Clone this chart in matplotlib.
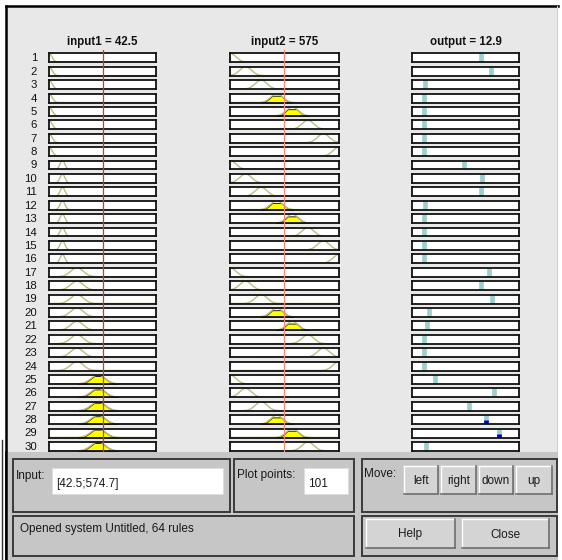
import numpy as np
import matplotlib.pyplot as plt
from matplotlib.patches import Rectangle

W, H = 562, 560
plt.rcParams['font.family'] = ['Liberation Sans Narrow', 'Liberation Sans', 'DejaVu Sans']

# ---- rule viewer data ----
rule_ids = list(range(1, 31))

in1_range = [0, 85]
in1_value = 42.5
in1_centers = [0, 10.7, 22.2, 39.0]
in1_sigmas = [2.4, 1.9, 5.0, 5.6]
in1_degree = [0, 0, 0, 0.88]

in2_range = [150, 1000]
in2_value = 574.7
in2_centers = [150, 271.4, 392.9, 514.3, 635.7, 757.1, 878.6, 1000]
in2_sigmas = [46, 46, 46, 46, 46, 46, 46, 46]
in2_degree = [0, 0, 0, 0.75, 0.75, 0, 0, 0]

out_range = [0, 17]
out_value = 12.9
out_rule_values = [11.0, 12.6, 2.0, 1.9, 1.9, 1.9, 1.9, 1.9,
                   8.2, 11.2, 11.0, 2.0, 1.9, 1.9, 1.9, 1.9,
                   12.2, 11.0, 12.7, 2.7, 2.4, 1.9, 1.9, 1.9,
                   3.7, 13.1, 9.1, 11.7, 13.9, 2.2]
rule_strength = [0, 0, 0, 0, 0, 0, 0, 0,
                 0, 0, 0, 0, 0, 0, 0, 0,
                 0, 0, 0, 0, 0, 0, 0, 0,
                 0, 0, 0, 0.42, 0.36, 0]

n_points = 101
titles = ['input1 = 42.5', 'input2 = 575', 'output = 12.9']


def px_rect(x0, y0, x1, y1):
    return [x0 / W, 1 - y1 / H, (x1 - x0) / W, (y1 - y0) / H]


def gaussmf(x, c, s):
    return np.exp(-(x - c) ** 2 / (2 * s ** 2))


fig = plt.figure(figsize=(W / 100, H / 100), dpi=100)
fig.patch.set_facecolor('white')

# background chrome (pixel coordinates)
bg = fig.add_axes([0, 0, 1, 1], zorder=-5)
bg.set_xlim(0, W)
bg.set_ylim(H, 0)
bg.axis('off')
bg.add_patch(Rectangle((6, 6), 552, 454, facecolor='#e8e8e8', edgecolor='none'))
bg.plot([6, 558], [6, 6], color='black', lw=1.8)
bg.plot([6, 6], [6, 560], color='black', lw=1.8)
bg.plot([557, 557], [6, 452], color='#cfcfcf', lw=0.8)

cols = [(49, 156), (230, 339), (412, 519)]
row_top0, row_step, row_h = 53.3, 13.4, 9.0

for (x0, x1), t in zip(cols, titles):
    bg.text((x0 + x1) / 2, 42, t, ha='center', va='center', fontsize=8.3,
            fontweight='bold', color='#111111')

for k, rid in enumerate(rule_ids):
    top = row_top0 + row_step * k
    bg.text(37, top + row_h / 2 + 0.5, str(rid), ha='right', va='center',
            fontsize=8.2, color='#111111')

    i1 = (rid - 1) // 8
    i2 = (rid - 1) % 8
    specs = [(in1_range, in1_centers[i1], in1_sigmas[i1], in1_degree[i1]),
             (in2_range, in2_centers[i2], in2_sigmas[i2], in2_degree[i2])]

    for (x0, x1), (rng, c, s, deg) in zip(cols[:2], specs):
        ax = fig.add_axes(px_rect(x0, top, x1, top + row_h))
        ax.set_xlim(rng)
        ax.set_ylim(0, 1)
        ax.set_xticks([])
        ax.set_yticks([])
        for sp in ax.spines.values():
            sp.set_linewidth(1.3)
            sp.set_color('#111111')
        xs = np.linspace(rng[0], rng[1], n_points * 4)
        ys = gaussmf(xs, c, s)
        if deg > 0:
            ax.fill_between(xs, 0, np.minimum(ys, deg), where=ys > 0.02,
                            facecolor='#ffff00', edgecolor='#222222', lw=0.7)
        ax.plot(xs, ys, color='#bdbd80', lw=1.0)

    ax = fig.add_axes(px_rect(cols[2][0], top, cols[2][1], top + row_h))
    ax.set_xlim(out_range)
    ax.set_ylim(0, 1)
    ax.set_xticks([])
    ax.set_yticks([])
    for sp in ax.spines.values():
        sp.set_linewidth(1.3)
        sp.set_color('#111111')
    ax.vlines(out_rule_values[k], 0, 1, color='#9dcfcf', lw=3.4)
    if rule_strength[k] > 0:
        ax.vlines(out_rule_values[k], 0, rule_strength[k], color='#0000cc', lw=3.4)

# input value indicators
for (x0, x1), rng, val, col in [(cols[0], in1_range, in1_value, '#c83838'),
                                (cols[1], in2_range, in2_value, '#ee8a7a')]:
    ov = fig.add_axes(px_rect(x0, 50, x1, 452), zorder=4)
    ov.set_xlim(rng)
    ov.axis('off')
    ov.patch.set_visible(False)
    ov.axvline(val, color=col, lw=0.9)

# bottom control panel
fg = fig.add_axes([0, 0, 1, 1], zorder=10)
fg.set_xlim(0, W)
fg.set_ylim(H, 0)
fg.axis('off')
fg.patch.set_visible(False)
fg.add_patch(Rectangle((7, 452), 551, 108, facecolor='#c6c6c6', edgecolor='none'))
fg.plot([6, 6], [452, 560], color='black', lw=1.8)
fg.plot([1.5, 1.5], [440, 560], color='#333333', lw=1.0)

panel_kw = dict(facecolor='none', edgecolor='#3a3a3a', lw=1.4)
for x0, y0, x1, y1 in [(13, 459, 230, 512), (234, 459, 354, 512), (362, 459, 557, 512),
                       (13, 516, 354, 556), (362, 516, 557, 556)]:
    fg.add_patch(Rectangle((x0, y0), x1 - x0, y1 - y0, **panel_kw))

for x0, y0, x1, y1 in [(52, 468, 223, 494), (304, 468, 348, 494)]:
    fg.add_patch(Rectangle((x0, y0), x1 - x0, y1 - y0, facecolor='white',
                           edgecolor='#dddddd', lw=0.6))

txt_kw = dict(fontsize=8.5, color='#1a1a1a', va='center')
fg.text(16, 476, 'Input:', **txt_kw)
fg.text(56, 484, '[42.5;574.7]', **txt_kw)
fg.text(237, 475, 'Plot points:', **txt_kw)
fg.text(308, 484, '101', **txt_kw)
fg.text(364, 474, 'Move:', **txt_kw)
fg.text(20, 529, 'Opened system Untitled, 64 rules', **txt_kw)


def button(x0, y0, x1, y1, label):
    fg.add_patch(Rectangle((x0, y0), x1 - x0, y1 - y0, facecolor='#d4d4d4',
                           edgecolor='none'))
    fg.plot([x0, x1], [y0, y0], color='white', lw=1.0)
    fg.plot([x0, x0], [y0, y1], color='white', lw=1.0)
    fg.plot([x0, x1], [y1, y1], color='#6e6e6e', lw=1.2)
    fg.plot([x1, x1], [y0, y1], color='#6e6e6e', lw=1.2)
    fg.text((x0 + x1) / 2, (y0 + y1) / 2 + 1, label, ha='center', va='center',
            fontsize=8.5, color='#1a1a1a')


button(404, 466, 438, 494, 'left')
button(441, 466, 476, 494, 'right')
button(479, 466, 513, 494, 'down')
button(516, 466, 552, 494, 'up')
button(366, 519, 455, 548, 'Help')
button(462, 519, 549, 548, 'Close')

fig.savefig('out.png', dpi=100)
